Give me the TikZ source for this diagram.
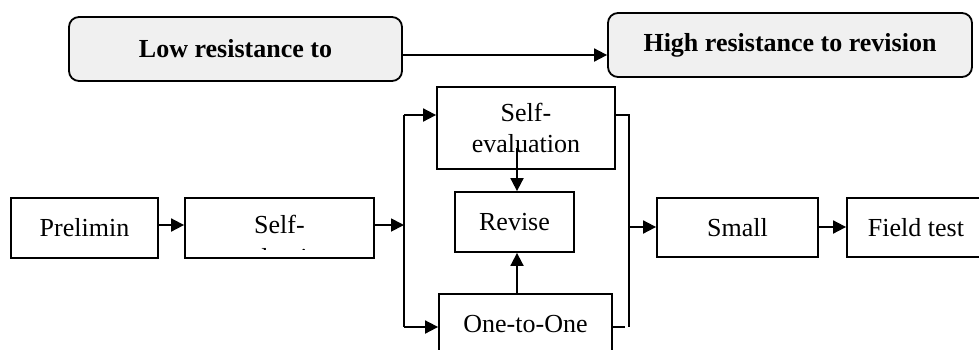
\documentclass[tikz,border=0pt]{standalone}
\usepackage{fontspec}
\setmainfont{Liberation Serif}
\usetikzlibrary{arrows.meta}
\begin{document}
\begin{tikzpicture}[x=0.5pt,y=-0.5pt,
  every node/.style={font=\fontsize{13}{15.5}\selectfont, inner sep=0pt},
  box/.style={draw, line width=0.9pt, minimum height=30pt},
  rbox/.style={draw, line width=0.9pt, rounded corners=5pt, fill=black!6, minimum height=32pt, font=\fontsize{13}{15.5}\selectfont\bfseries},
  arr/.style={line width=0.9pt, -{Triangle[length=6.5pt,width=6.5pt]}},
  ln/.style={line width=0.9pt}]
\useasboundingbox (0,0) rectangle (979,349);
\clip (0,0) rectangle (979,349);
% top
\node[rbox, minimum width=166.5pt] (low) at (235.5,49) {Low resistance to};
\node[rbox, minimum width=182pt] (high) at (790,45) {High resistance to revision};
\draw[arr] (low.east |- 0,55) -- (high.west |- 0,55);
% boxes
\node[box, minimum width=73.5pt] (prelim) at (84.5,228) {Prelimin};
\node[box, minimum width=94.5pt] (selfa) at (279.5,228) {};
\node[anchor=base] (selfatop) at (279.5,233) {Self-};
\begin{scope}
  \clip (185,198) rectangle (374,249.5);
  \node[anchor=base] (selfabot) at (279.5,266) {evaluation};
\end{scope}
\node[box, minimum width=89pt, minimum height=41pt, align=center] (selfb) at (526,128) {Self-\\evaluation};
\node[box, minimum width=59.5pt] (revise) at (514.5,222) {Revise};
\node[box, minimum width=86.5pt] (one) at (525.5,324) {One-to-One};
\node[box, minimum width=80.5pt, minimum height=29.5pt] (small) at (737.5,227.5) {Small};
\node[box, minimum width=69pt, minimum height=29.5pt] (field) at (916,227.5) {Field test};
% coordinates
\coordinate (bl) at (404,225);
\coordinate (blt) at (404,115);
\coordinate (blb) at (404,327);
\coordinate (brt) at (629,115);
\coordinate (brm) at (629,227);
\coordinate (brb) at (629,327);
\coordinate (dashend) at (625,327);
\coordinate (sbstart) at (517,148);
% connectors
\draw[arr] (prelim.east |- 0,225) -- (selfa.west |- 0,225);
\draw[arr] (selfa.east |- bl) -- (bl);
\draw[ln] (blt) -- (blb);
\draw[arr] (blt) -- (selfb.west |- blt);
\draw[arr] (blb) -- (one.west |- blb);
\draw[arr] (sbstart) -- (revise.north -| sbstart);
\draw[arr] (one.north -| sbstart) -- (revise.south -| sbstart);
\draw[ln] (selfb.east |- brt) -- (brt) -- (brb);
\draw[ln] (one.east |- dashend) -- (dashend);
\draw[arr] (brm) -- (small.west |- brm);
\draw[arr] (small.east |- brm) -- (field.west |- brm);
\end{tikzpicture}
\end{document}
